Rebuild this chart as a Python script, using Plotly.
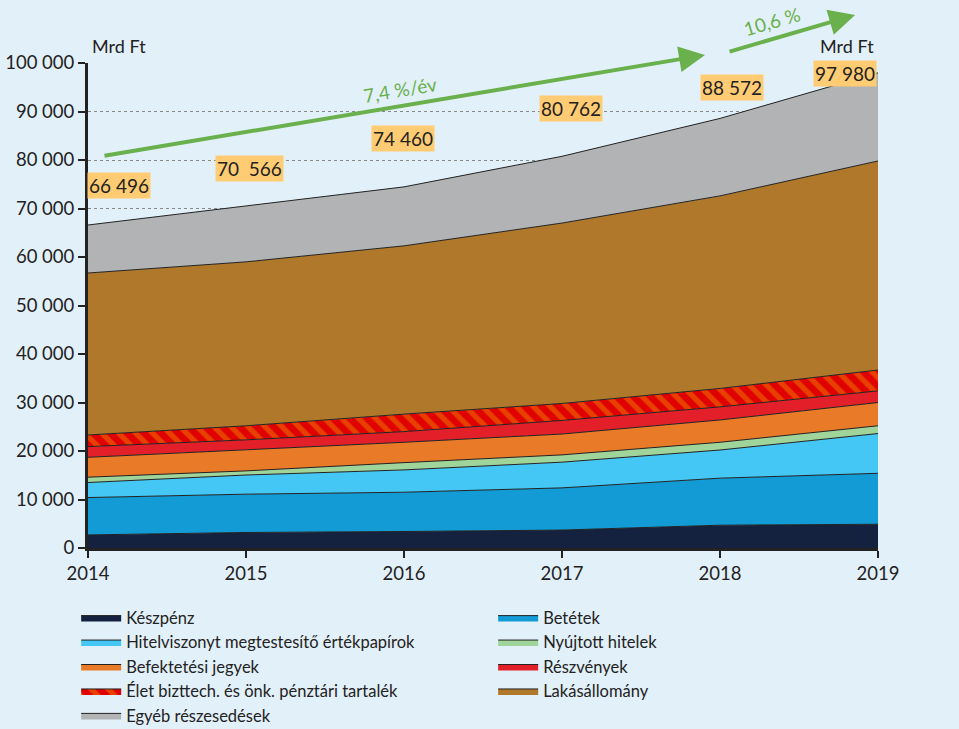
import plotly.graph_objects as go

# Years on the x axis
years = [2014, 2015, 2016, 2017, 2018, 2019]

# Household wealth components, Mrd Ft (stacked from bottom)
keszpenz = [2700, 3200, 3400, 3700, 4700, 4900]
betetek = [7700, 7900, 8100, 8700, 9700, 10500]
hitelviszony = [3100, 3950, 4600, 5300, 5800, 8200]
nyujtott = [1100, 850, 1500, 1500, 1600, 1600]
befektetesi = [4100, 4300, 4200, 4300, 4600, 4800]
reszvenyek = [2200, 2100, 2200, 2800, 2700, 2400]
elet = [2400, 2900, 3600, 3500, 3800, 4300]
lakas = [33400, 33800, 34700, 37200, 39700, 43100]
egyeb = [9896, 11566, 12160, 13762, 15972, 18180]

# Totals printed in the orange boxes
totals = [66496, 70566, 74460, 80762, 88572, 97980]
total_labels = ["66 496", "70  566", "74 460", "80 762", "88 572", "97 980"]

series = [
    ("Készpénz", keszpenz, "#14213f"),
    ("Betétek", betetek, "#139bd5"),
    ("Hitelviszonyt megtestesítő értékpapírok", hitelviszony, "#44c7f4"),
    ("Nyújtott hitelek", nyujtott, "#9fd49a"),
    ("Befektetési jegyek", befektetesi, "#e87a28"),
    ("Részvények", reszvenyek, "#e3202a"),
    ("Élet bizttech. és önk. pénztári tartalék", elet, "#e00000"),
    ("Lakásállomány", lakas, "#b0782a"),
    ("Egyéb részesedések", egyeb, "#b1b3b4"),
]

BG = "#e2f0f9"
FONT = "Lato, 'Open Sans', sans-serif"
GREEN = "#6ab04c"
INK = "#222222"

fig = go.Figure()
for name, values, color in series:
    kwargs = dict(fillcolor=color)
    if name.startswith("Élet"):
        kwargs["fillpattern"] = dict(
            shape="\\", fgcolor="#f08000", bgcolor="#e00000",
            size=12, solidity=0.45, fillmode="overlay",
        )
    fig.add_trace(
        go.Scatter(
            x=years,
            y=values,
            name=name,
            mode="lines",
            stackgroup="one",
            line=dict(color=INK, width=1),
            **kwargs,
        )
    )

axis_common = dict(
    range=[0, 100000],
    tickvals=list(range(0, 100001, 10000)),
    tickformat=",d",
    ticks="outside",
    ticklen=7,
    tickwidth=2,
    tickcolor=INK,
    showline=True,
    linecolor=INK,
    linewidth=3,
    tickfont=dict(size=18.5, color=INK, family=FONT),
    zeroline=False,
)

fig.update_layout(
    width=959,
    height=729,
    paper_bgcolor=BG,
    plot_bgcolor=BG,
    separators=", ",
    font=dict(family=FONT, color=INK),
    margin=dict(l=88, r=81, t=63, b=181, autoexpand=False),
    xaxis=dict(
        range=[2014, 2019],
        tickvals=years,
        ticks="outside",
        ticklen=7,
        tickwidth=2,
        tickcolor=INK,
        showline=True,
        linecolor=INK,
        linewidth=3,
        showgrid=False,
        zeroline=False,
        tickfont=dict(size=18.5, color=INK, family=FONT),
    ),
    yaxis=dict(
        **axis_common,
        showgrid=True,
        gridcolor="#888888",
        griddash="dot",
        gridwidth=1,
    ),
    yaxis2=dict(
        **axis_common,
        overlaying="y",
        side="right",
        anchor="x",
        showgrid=False,
    ),
    showlegend=True,
    legend=dict(
        orientation="h",
        x=-0.015,
        xanchor="left",
        y=-0.108,
        yanchor="top",
        entrywidth=362,
        entrywidthmode="pixels",
        itemwidth=40,
        traceorder="normal",
        font=dict(size=16.5, color=INK, family=FONT),
        bgcolor="rgba(0,0,0,0)",
        tracegroupgap=0,
    ),
)

# Total value labels (offsets in pixels relative to each stack top)
label_shifts = [(31, 40), (3, 37), (-1, 48), (9, 48), (12, 31), (-33, -1)]
for yr, tot, txt, (dx, dy) in zip(years, totals, total_labels, label_shifts):
    fig.add_annotation(
        x=yr, y=tot, text=txt, showarrow=False,
        xshift=dx, yshift=dy,
        bgcolor="#ffcc73", borderpad=1,
        font=dict(size=19, color=INK, family=FONT),
    )

# Unit labels
for xp, anchor in [(0.003, "left"), (0.997, "right")]:
    fig.add_annotation(
        x=xp, y=1.0, xref="paper", yref="paper", yanchor="bottom",
        xanchor=anchor, yshift=4, text="Mrd Ft", showarrow=False,
        font=dict(size=18, color=INK, family=FONT),
    )

# Growth arrows
fig.add_annotation(
    x=0.781, y=1.0165, xref="paper", yref="paper",
    ax=-602, ay=101, text="", showarrow=True,
    arrowhead=2, arrowsize=1.3, arrowwidth=4, arrowcolor=GREEN,
)
fig.add_annotation(
    x=0.971, y=1.099, xref="paper", yref="paper",
    ax=-127, ay=37, text="", showarrow=True,
    arrowhead=2, arrowsize=1.3, arrowwidth=4, arrowcolor=GREEN,
)
fig.add_annotation(
    x=(400 - 88) / 790, y=(548 - 89) / 485, xref="paper", yref="paper",
    xanchor="center", yanchor="middle",
    text="7,4 %/év", showarrow=False, textangle=-9.5,
    font=dict(size=19, color=GREEN, family=FONT),
)
fig.add_annotation(
    x=(771 - 88) / 790, y=(548 - 21) / 485, xref="paper", yref="paper",
    xanchor="center", yanchor="middle",
    text="10,6 %", showarrow=False, textangle=-16,
    font=dict(size=19, color=GREEN, family=FONT),
)

fig.write_html(
    "out.html",
    config={"displayModeBar": False},
    post_script="document.body.style.margin='0';"
    "document.body.style.background='#e2f0f9';",
)
